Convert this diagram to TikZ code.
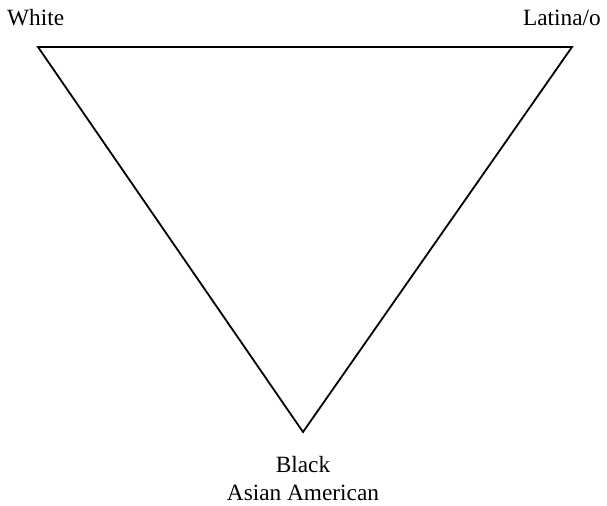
\documentclass[tikz,border=0pt]{standalone}
\usepackage{fontspec}
\setmainfont{Liberation Serif}
\begin{document}
\begin{tikzpicture}[x=1bp,y=-1bp,
  lbl/.style={inner sep=0pt,font=\fontsize{23.4}{27}\selectfont},
  edge/.style={line width=1.8bp,line join=miter}]
\useasboundingbox (0,0) rectangle (607,506);
\coordinate (W) at (38,47);
\coordinate (L) at (572,47);
\coordinate (B) at (303,432);
\draw[edge] (W) -- (L) -- (B) -- cycle;
\node[lbl,anchor=base west] (tw) at (7,26) {White};
\node[lbl,anchor=base east] (tl) at (601,26) {Latina/o};
\node[lbl,anchor=base] (tb) at (303,472) {Black};
\node[lbl,anchor=base] (ta) at (303,500) {Asian American};
\end{tikzpicture}
\end{document}
